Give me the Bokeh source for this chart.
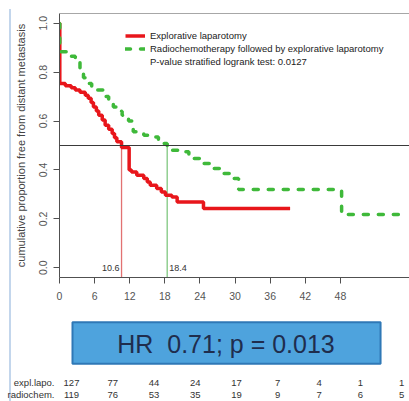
from bokeh.plotting import figure
from bokeh.models import (Range1d, FixedTicker, PrintfTickFormatter, Span, Legend,
                          LegendItem, ColumnDataSource)
from bokeh.layouts import column
from bokeh.core.properties import value
from bokeh.embed import file_html
from bokeh.resources import INLINE

FONT = "Liberation Sans"
RED = "#e8161b"
GREEN = "#3fb93a"
RED_LIGHT = "#e27272"
GREEN_LIGHT = "#80c880"
AXIS_GREY = "#505050"

# Kaplan-Meier estimates: months vs. proportion free from distant metastasis
lapo_months = [0, 0.05, 1.0, 2.0, 2.7, 3.5, 4.4, 4.9, 5.4, 5.8,
               6.3, 6.7, 7.3, 7.8, 8.4, 9.0, 9.4, 9.8, 10.6, 11.9,
               12.3, 13.2, 14.4, 15.0, 15.5, 16.6, 17.4, 18.1, 19.2, 20.1,
               24.6, 39.4]
lapo_surv = [1.0, 0.754, 0.744, 0.736, 0.727, 0.718, 0.706, 0.693, 0.676, 0.658,
             0.641, 0.624, 0.604, 0.583, 0.566, 0.549, 0.532, 0.515, 0.492, 0.400,
             0.392, 0.378, 0.365, 0.351, 0.337, 0.324, 0.310, 0.296, 0.289, 0.269,
             0.242, 0.242]

radio_months = [0, 0.05, 1.8, 2.7, 3.5, 4.1, 4.7, 5.5, 6.4, 7.5,
                8.4, 9.2, 10.0, 10.7, 11.8, 12.6, 14.4, 16.1, 16.9, 17.8,
                18.4, 20.3, 22.1, 24.1, 26.3, 28.0, 29.7, 30.6, 48.2, 58.5]
radio_surv = [1.0, 0.884, 0.865, 0.850, 0.800, 0.777, 0.754, 0.740, 0.727, 0.700,
              0.680, 0.658, 0.640, 0.624, 0.600, 0.556, 0.542, 0.535, 0.515, 0.508,
              0.481, 0.474, 0.447, 0.426, 0.406, 0.385, 0.365, 0.320, 0.218, 0.218]

series_names = ["Explorative laparotomy",
                "Radiochemotherapy followed by explorative laparotomy"]
logrank_p = 0.0127

median_months = [10.6, 18.4]
median_level = 0.5

x_ticks = [0, 6, 12, 18, 24, 30, 36, 42, 48]
y_ticks = [0.0, 0.2, 0.4, 0.6, 0.8, 1.0]

hazard_ratio = 0.71
hr_p_value = 0.013

risk_times = [0, 6, 12, 18, 24, 30, 36, 42, 48]
risk_groups = ["expl.lapo.", "radiochem."]
risk_lapo = [127, 77, 44, 24, 17, 7, 4, 1, 1]
risk_radio = [119, 76, 53, 35, 19, 9, 7, 6, 5]

# ---------------------------------------------------------------- survival plot
p = figure(width=409, height=312,
           x_range=Range1d(0, 59.8), y_range=Range1d(-0.04, 1.04),
           output_backend="svg", toolbar_location=None,
           min_border_left=59, min_border_right=0,
           min_border_top=13, min_border_bottom=35)
p.border_fill_color = None
p.background_fill_color = "white"
p.outline_line_color = None
p.grid.visible = False

xa = p.xaxis[0]
xa.ticker = FixedTicker(ticks=x_ticks)
xa.major_tick_out = 6
xa.major_tick_in = 0
xa.minor_tick_line_color = None
xa.axis_line_color = AXIS_GREY
xa.major_tick_line_color = AXIS_GREY
xa.major_label_text_font = FONT
xa.major_label_text_font_size = "10.5px"
xa.major_label_text_color = "#555555"
xa.major_label_standoff = 8

ya = p.yaxis[0]
ya.ticker = FixedTicker(ticks=y_ticks)
ya.formatter = PrintfTickFormatter(format="%.1f")
ya.major_label_orientation = "vertical"
ya.major_tick_out = 6
ya.major_tick_in = 0
ya.minor_tick_line_color = None
ya.axis_line_color = AXIS_GREY
ya.major_tick_line_color = AXIS_GREY
ya.major_label_text_font = FONT
ya.major_label_text_font_size = "10.5px"
ya.major_label_text_color = "#555555"
ya.major_label_standoff = 6
ya.axis_label = "cumulative proportion free from distant metastasis"
ya.axis_label_text_font = FONT
ya.axis_label_text_font_size = "11px"
ya.axis_label_text_font_style = "normal"
ya.axis_label_text_color = "#444444"
ya.axis_label_standoff = 10

# top edge of the plot box
p.add_layout(Span(location=p.y_range.end, dimension="width",
                  line_color=AXIS_GREY, line_width=1.2))

# median lines
p.add_layout(Span(location=median_level, dimension="width",
                  line_color="#3a3a3a", line_width=1.2))
p.segment(x0=median_months, y0=[median_level] * 2,
          x1=median_months, y1=[p.y_range.start] * 2,
          line_color=[RED_LIGHT, GREEN_LIGHT], line_width=1.3)

red = p.step(lapo_months, lapo_surv, mode="after",
             line_color=RED, line_width=3.5)
green = p.step(radio_months, radio_surv, mode="after",
               line_color=GREEN, line_width=3.5,
               line_dash="5 10", line_cap="round")

med_src = ColumnDataSource(dict(
    x=median_months, y=[0.0, 0.0],
    label=[f"{m:.1f}" for m in median_months],
    align=["right", "left"], dx=[-2, 2]))
p.text(x="x", y="y", text="label", source=med_src,
       text_align="align", x_offset="dx", text_baseline="middle",
       text_font=value(FONT), text_font_size="9px", text_color="#333333")

pval_row = p.line(x=[], y=[], line_alpha=0)
legend = Legend(items=[
    LegendItem(label=series_names[0], renderers=[red]),
    LegendItem(label=series_names[1], renderers=[green]),
    LegendItem(label=f"P-value stratified logrank test: {logrank_p}",
               renderers=[pval_row]),
], location=(66, 209))
legend.glyph_width = 20
legend.glyph_height = 13
legend.label_height = 13
legend.label_standoff = 5
legend.spacing = 0
legend.padding = 0
legend.margin = 0
legend.border_line_color = None
legend.background_fill_alpha = 0
legend.label_text_font = FONT
legend.label_text_font_size = "9.5px"
legend.label_text_color = "#222222"
p.add_layout(legend)

# ---------------------------------------------------------------- HR box and risk table
# x in months on the risk-table scale; y counts pixels down from the panel top
row_y = [70, 82]
p2 = figure(width=409, height=89,
            x_range=Range1d(-1.745, 49.16), y_range=Range1d(89, 0),
            x_axis_type=None,
            output_backend="svg", toolbar_location=None,
            min_border=0, min_border_left=59, min_border_right=0)
p2.grid.visible = False
p2.outline_line_color = None
p2.background_fill_color = None
p2.border_fill_color = None

ra = p2.yaxis[0]
ra.ticker = FixedTicker(ticks=row_y)
ra.major_label_overrides = {row_y[0]: risk_groups[0], row_y[1]: risk_groups[1]}
ra.axis_line_color = None
ra.major_tick_line_color = None
ra.minor_tick_line_color = None
ra.major_tick_out = 0
ra.major_tick_in = 0
ra.minor_tick_out = 0
ra.minor_tick_in = 0
ra.major_label_standoff = 5
ra.major_label_text_font = FONT
ra.major_label_text_font_size = "9.5px"
ra.major_label_text_color = "#333333"

p2.quad(left=[0.145], right=[44.95], top=[9.7], bottom=[51.3],
        fill_color="#4ea3dd", line_color="#2f78b6", line_width=2)
p2.text(x=[22.47], y=[31],
        text=[f"HR\u00a0\u00a0{hazard_ratio}; p = {hr_p_value}"],
        text_align="center", text_baseline="middle",
        text_font=value(FONT), text_font_size="25px", text_color="#1f2d4d")

for counts, yy in zip([risk_lapo, risk_radio], row_y):
    p2.text(x=risk_times, y=[yy] * len(risk_times), text=[str(c) for c in counts],
            text_align="center", text_baseline="middle",
            text_font=value(FONT), text_font_size="9.5px", text_color="#333333")

layout = column(p, p2, spacing=0, styles={
    "background-image": "linear-gradient(#c3d6ec, #c3d6ec)",
    "background-repeat": "no-repeat",
    "background-size": "2px 392px",
    "background-position": "9px 9px",
})

open("out.html", "w").write(file_html(layout, INLINE))
